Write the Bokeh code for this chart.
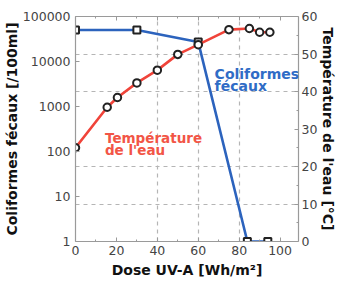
from bokeh.plotting import figure
from bokeh.models import (Range1d, LinearAxis, FixedTicker, Grid, Label, LinearScale)
from bokeh.embed import file_html
from bokeh.resources import INLINE

# ---- data ----
dose_coli = [0, 30, 60, 84, 94]
coli = [50000, 50000, 27000, 1, 1]
dose_temp = [0, 15.5, 20.5, 30, 40, 50, 60, 75, 85, 90, 95]
temp = [25, 35.8, 38.4, 42.3, 45.7, 49.9, 52.5, 56.5, 56.8, 55.8, 55.8]

x_ticks = [0, 20, 40, 60, 80, 100]
x_minor = [10, 30, 50, 70, 90]
log_ticks = [1, 10, 100, 1000, 10000, 100000]
log_labels = ["1", "10", "100", "1000", "10000", "100000"]
t_ticks = [0, 10, 20, 30, 40, 50, 60]
t_minor = [5, 15, 25, 35, 45, 55]
x_grid = [40, 60, 80]
t_grid = [10, 20, 40, 50]

RED = "#f0443a"
BLUE = "#2c63bd"
RED_TXT = "#f25546"
BLUE_TXT = "#2f6cc6"
AX = "#9a9a9a"
TICK_FONT = "DejaVu Sans"

p = figure(width=339, height=283, y_axis_type="log",
           x_range=Range1d(0, 109), y_range=Range1d(1, 100000),
           output_backend="svg", toolbar_location=None,
           min_border_top=16, min_border_left=74, min_border_right=37, min_border_bottom=42)
p.extra_y_ranges = {"temp": Range1d(0, 60)}
p.extra_y_scales = {"temp": LinearScale()}
p.outline_line_color = None
p.grid.visible = False
p.background_fill_color = "white"
p.border_fill_color = "white"

def style_axis(ax):
    ax.axis_line_color = AX
    ax.axis_line_width = 1.2
    ax.major_tick_line_color = AX
    ax.minor_tick_line_color = AX
    ax.major_tick_in = 4
    ax.major_tick_out = 0
    ax.minor_tick_in = 2
    ax.minor_tick_out = 0
    ax.major_label_text_font = TICK_FONT
    ax.major_label_text_font_size = "12.5px"
    ax.major_label_text_color = "#444444"
    ax.major_label_standoff = 3
    ax.axis_label_text_font = "DejaVu Sans"
    ax.axis_label_text_font_style = "bold"
    ax.axis_label_text_font_size = "14px"
    ax.axis_label_text_color = "#111111"
    ax.axis_label_standoff = 3

# bottom axis
xa = p.xaxis[0]
xa.ticker = FixedTicker(ticks=x_ticks, minor_ticks=x_minor)
xa.axis_label = "Dose UV-A [Wh/m²]"
style_axis(xa)
xa.major_label_standoff = 4
xa.axis_label_standoff = 4

# left axis
ya = p.yaxis[0]
ya.ticker = FixedTicker(ticks=log_ticks, minor_ticks=[])
ya.major_label_overrides = {t: l for t, l in zip(log_ticks, log_labels)}
ya.axis_label = "Coliformes fécaux [/100ml]"
style_axis(ya)
ya.major_label_standoff = 5
ya.axis_label_standoff = 0

# top axis (frame)
top = LinearAxis(ticker=FixedTicker(ticks=x_ticks, minor_ticks=x_minor))
style_axis(top)
top.major_label_overrides = {t: "" for t in x_ticks}
top.major_label_standoff = 0
p.add_layout(top, "above")

# right axis
ra = LinearAxis(y_range_name="temp",
                ticker=FixedTicker(ticks=t_ticks, minor_ticks=t_minor),
                axis_label="Température de l'eau [°C]")
style_axis(ra)
ra.major_label_standoff = 3
ra.axis_label_standoff = 0
p.add_layout(ra, "right")

# grids
gx = Grid(dimension=0, ticker=FixedTicker(ticks=x_grid),
          grid_line_color="#b5b5b5", grid_line_dash="4 4", grid_line_width=1.2)
gy = Grid(dimension=1, ticker=FixedTicker(ticks=t_grid), y_range_name="temp",
          grid_line_color="#b5b5b5", grid_line_dash="4 4", grid_line_width=1.2)
p.add_layout(gx)
p.add_layout(gy)

# series
p.line(dose_coli, coli, line_color=BLUE, line_width=2.6)
p.scatter(dose_coli, coli, marker="square", size=7, fill_color="white",
          line_color="#222222", line_width=2)
p.line(dose_temp, temp, line_color=RED, line_width=2.6, y_range_name="temp")
p.scatter(dose_temp, temp, marker="circle", size=7.5, fill_color="white",
          line_color="#222222", line_width=2, y_range_name="temp")

# annotations
def lab(x, y, t, c, size):
    p.add_layout(Label(x=x, y=y, text=t, y_range_name="temp", text_color=c,
                       text_font="DejaVu Sans", text_font_style="bold",
                       text_font_size=size, text_align="left",
                       text_baseline="alphabetic"))

lab(68, 44.7, "Coliformes", BLUE_TXT, "14px")
lab(68, 41.6, "fécaux", BLUE_TXT, "14px")
lab(14.4, 27.7, "Température", RED_TXT, "13.5px")
lab(14.4, 24.4, "de l'eau", RED_TXT, "13.5px")

open("out.html", "w").write(file_html(p, INLINE))
